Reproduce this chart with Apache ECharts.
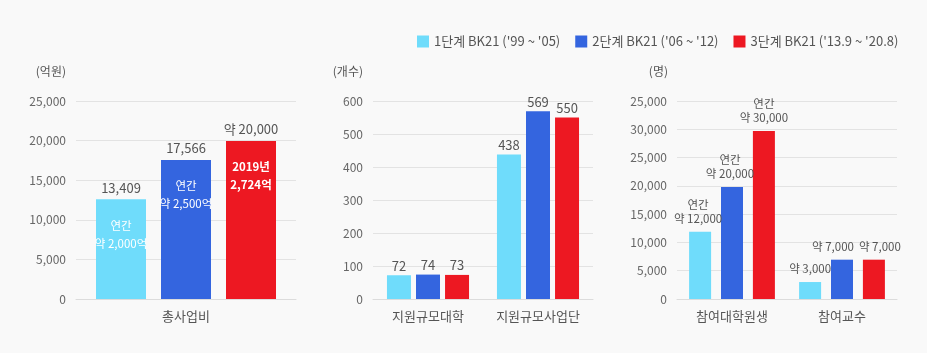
<!DOCTYPE html>
<html>
<head>
<meta charset="utf-8">
<script src="https://cdn.jsdelivr.net/npm/echarts@6/dist/echarts.min.js"></script>
<style>
  html, body { margin: 0; padding: 0; background: #f9f9f9; }
  #chart { width: 927px; height: 353px; }
</style>
</head>
<body>
<div id="chart"></div>
<script>
  // legend / stage names
  const stageNames = ["1단계 BK21 ('99 ~ '05)", "2단계 BK21 ('06 ~ '12)", "3단계 BK21 ('13.9 ~ '20.8)"];
  const stageColors = ['#6fdcfb', '#3465df', '#ed1822'];

  // left: total budget (억원)
  const budgetCats = ['총사업비'];
  const budgetValues = [[12600], [17566], [19950]];
  const budgetTopLabels = [['13,409'], ['17,566'], ['약 20,000']];
  const budgetInsideLabels = ['연간\n약 2,000억', '연간\n약 2,500억', '2019년\n2,724억'];

  // middle: number of universities / groups (개수)
  const scaleCats = ['지원규모대학', '지원규모사업단'];
  const scaleValues = [[72, 438], [74, 569], [73, 550]];
  const scaleLabels = [['72', '438'], ['74', '569'], ['73', '550']];

  // right: participants (명)
  const peopleCats = ['참여대학원생', '참여교수'];
  const peopleValues = [[11900, 3000], [19800, 6950], [29700, 6950]];
  const peopleLabels = [['연간\n약 12,000', '약 3,000'], ['연간\n약 20,000', '약 7,000'], ['연간\n약 30,000', '약 7,000']];
  const peopleTicks = ['0', '5,000', '10,000', '15,000', '20,000', '25,000', '30,000', '25,000'];

  // label nudges so the neighbouring "약 7,000" labels don't collide
  const peopleLabelShift = [[-2, 0], [-2, -9], [0, 6]];

  const font = '"Noto Sans CJK KR", "Noto Sans", sans-serif';
  const chart = echarts.init(document.getElementById('chart'));

  function yAxis(idx, name, max, interval, fmt, nameRight) {
    return {
      type: 'value', gridIndex: idx, min: 0, max: max, interval: interval,
      name: name, nameLocation: 'end', nameGap: 24,
      nameTextStyle: { color: '#555', fontSize: 12, fontFamily: font, align: 'right', padding: [0, nameRight, 0, 0] },
      axisLine: { show: false }, axisTick: { show: false },
      axisLabel: { color: '#666', fontSize: 12, fontFamily: font, margin: 10, formatter: fmt },
      splitLine: { lineStyle: { color: '#e3e3e3' } }
    };
  }
  function xAxis(idx, cats) {
    return {
      type: 'category', gridIndex: idx, data: cats,
      axisLine: { lineStyle: { color: '#dcdcdc' } }, axisTick: { show: false },
      axisLabel: { color: '#555', fontSize: 13, fontFamily: font, margin: 11 }
    };
  }
  const numFmt = v => v.toLocaleString('en-US');

  const series = [];
  stageNames.forEach((name, s) => {
    // left
    series.push({
      name: name, type: 'bar', xAxisIndex: 0, yAxisIndex: 0,
      data: budgetValues[s], barWidth: 50, barGap: '30%',
      itemStyle: { color: stageColors[s] },
      label: {
        show: true, position: 'top', distance: 5, color: '#555', fontSize: 13, fontFamily: font,
        formatter: p => budgetTopLabels[s][p.dataIndex]
      },
      markPoint: {
        symbol: 'circle', symbolSize: 0, silent: true,
        data: [{ type: 'max' }],
        label: {
          show: true, position: 'bottom', distance: 17, color: '#fff', fontSize: 11.5, lineHeight: 18,
          fontFamily: font, fontWeight: s === 2 ? 'bold' : 'normal', align: 'center',
          formatter: () => budgetInsideLabels[s]
        }
      }
    });
    // middle
    series.push({
      name: name, type: 'bar', xAxisIndex: 1, yAxisIndex: 1,
      data: scaleValues[s], barWidth: 24, barGap: '21%',
      itemStyle: { color: stageColors[s] },
      label: {
        show: true, position: 'top', distance: 3, color: '#555', fontSize: 13, fontFamily: font,
        formatter: p => scaleLabels[s][p.dataIndex]
      }
    });
    // right
    series.push({
      name: name, type: 'bar', xAxisIndex: 2, yAxisIndex: 2,
      data: peopleValues[s].map((v, i) => ({ value: v, label: { offset: [peopleLabelShift[s][i], 0] } })),
      barWidth: 22, barGap: '45%',
      itemStyle: { color: stageColors[s] },
      label: {
        show: true, position: 'top', distance: 6, color: '#555', fontSize: 11.5, lineHeight: 14, fontFamily: font,
        formatter: p => peopleLabels[s][p.dataIndex]
      }
    });
  });

  chart.setOption({
    backgroundColor: '#f9f9f9',
    animation: false,
    textStyle: { fontFamily: font },
    legend: {
      data: stageNames, top: 30, left: 412, itemWidth: 12, itemHeight: 12, itemGap: 15,
      icon: 'rect',
      textStyle: { color: '#555', fontSize: 13, fontFamily: font }
    },
    grid: [
      { left: 76, width: 220, top: 101, bottom: 54 },
      { left: 373, width: 220, top: 101, bottom: 54 },
      { left: 677, width: 220, top: 101, bottom: 54 }
    ],
    xAxis: [xAxis(0, budgetCats), xAxis(1, scaleCats), xAxis(2, peopleCats)],
    yAxis: [
      yAxis(0, '(억원)', 25000, 5000, numFmt, 10),
      yAxis(1, '(개수)', 600, 100, v => String(v), 10),
      yAxis(2, '(명)', 35000, 5000, (v, i) => peopleTicks[i], 9)
    ],
    series: series
  });
</script>
</body>
</html>
